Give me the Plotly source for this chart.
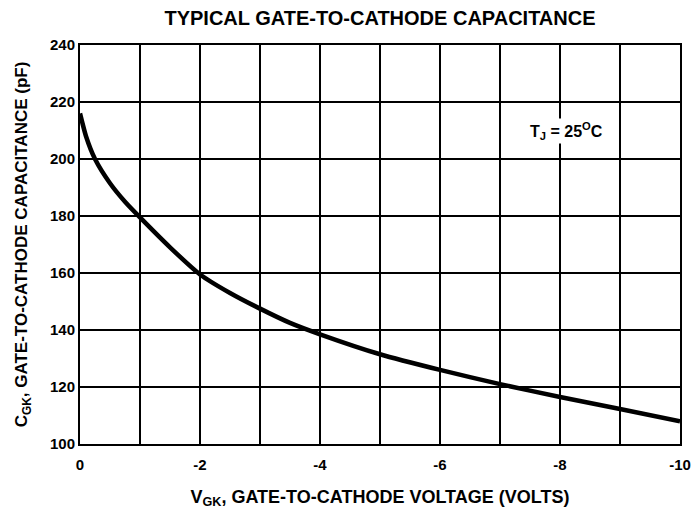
import plotly.graph_objects as go

# Data
vgk = [0, -0.1, -0.25, -0.5, -0.75, -1, -1.5, -2, -2.5, -3, -3.5, -4, -5, -6, -7, -8, -9, -10]
cgk = [216, 208, 200, 191.5, 185, 179.5, 169, 159.5, 153, 147.5, 142.5, 138.5, 131.5, 126, 121, 116.5, 112.3, 108]

x_tickvals = [0, -2, -4, -6, -8, -10]
x_ticktext = ["0", "-2", "-4", "-6", "-8", "-10"]
y_tickvals = [100, 120, 140, 160, 180, 200, 220, 240]
y_ticktext = ["100", "120", "140", "160", "180", "200", "220", "240"]

FONT = "Liberation Sans, Arial, sans-serif"

# page body has an 8px margin: size the figure so that it fits the 699x514 window
W, H = 691, 506

fig = go.Figure()
fig.add_trace(go.Scatter(
    x=vgk, y=cgk, mode="lines",
    line=dict(color="black", width=4.5, shape="spline", smoothing=0.6),
    showlegend=False, hoverinfo="skip",
))

fig.add_annotation(
    x=-8.1, y=210, xref="x", yref="y",
    text="<b>T<sub>J</sub> = 25<sup>O</sup>C</b>",
    showarrow=False, bgcolor="white",
    font=dict(family=FONT, size=16, color="black"),
)

fig.update_layout(
    width=W, height=H,
    paper_bgcolor="white", plot_bgcolor="white",
    margin=dict(l=72, r=19, t=37, b=70),
    title=dict(
        text="<b>TYPICAL GATE-TO-CATHODE CAPACITANCE</b>",
        x=0.5, xanchor="center", xref="paper", y=0.98, yanchor="middle",
        font=dict(family=FONT, size=20, color="black"),
    ),
    font=dict(family=FONT, color="black"),
)

fig.update_xaxes(
    range=[0, -10],
    tickmode="array", tickvals=x_tickvals, ticktext=x_ticktext,
    showgrid=True, gridcolor="black", gridwidth=2,
    minor=dict(tickmode="linear", tick0=0, dtick=1, showgrid=True,
               gridcolor="black", gridwidth=2, ticks=""),
    showline=True, linecolor="black", linewidth=2, mirror=True,
    zeroline=False, ticks="", automargin=False, ticklabelstandoff=6,
    tickfont=dict(family=FONT, size=15, color="black", weight="bold"),
    title=dict(text="<b>V<sub>GK</sub>, GATE-TO-CATHODE VOLTAGE (VOLTS)</b>",
               font=dict(family=FONT, size=18, color="black"), standoff=18),
)
fig.update_yaxes(
    range=[100, 240],
    tickmode="array", tickvals=y_tickvals, ticktext=y_ticktext,
    showgrid=True, gridcolor="black", gridwidth=2,
    showline=True, linecolor="black", linewidth=2, mirror=True,
    zeroline=False, ticks="", automargin=False,
    tickfont=dict(family=FONT, size=15, color="black", weight="bold"),
    title=dict(text="<b>C<sub>GK</sub>, GATE-TO-CATHODE CAPACITANCE (pF)</b>",
               font=dict(family=FONT, size=17, color="black"), standoff=18),
)

fig.write_html("out.html")
